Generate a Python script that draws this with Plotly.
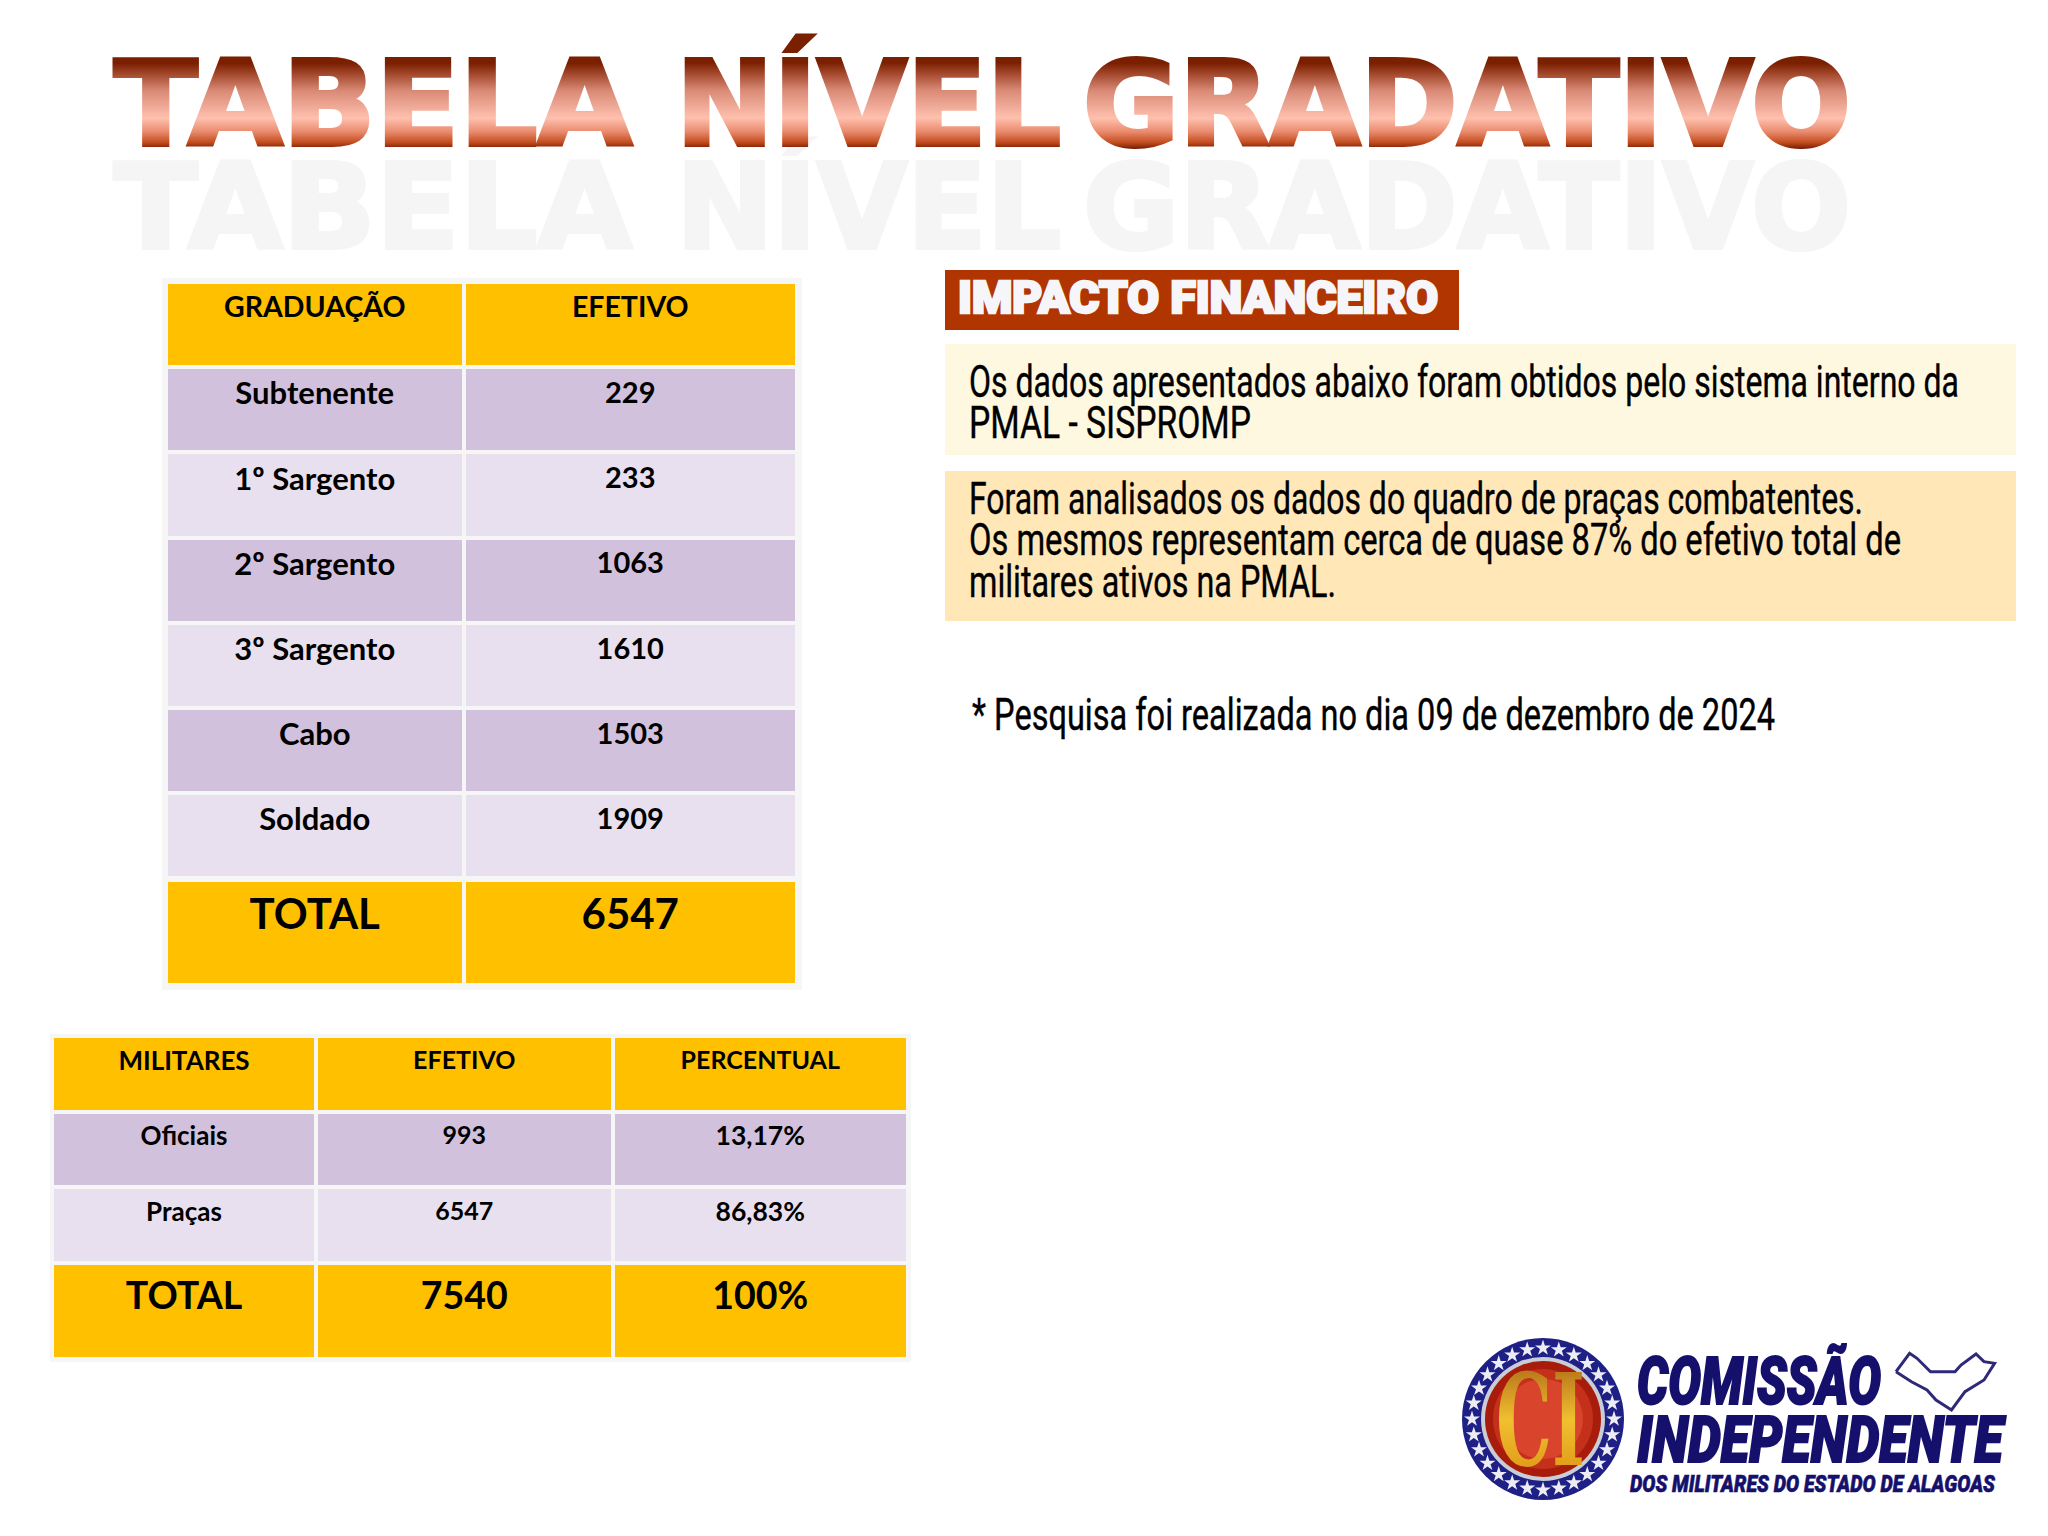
import json
import numpy as np
import plotly.graph_objects as go

W, H = 2048, 1536

# table 1
grad_header = ["GRADUAÇÃO", "EFETIVO"]
graduacao = ["Subtenente", "1º Sargento", "2º Sargento", "3º Sargento", "Cabo", "Soldado"]
efetivo = [229, 233, 1063, 1610, 1503, 1909]
grad_total = ["TOTAL", 6547]

# table 2
mil_header = ["MILITARES", "EFETIVO", "PERCENTUAL"]
militares = ["Oficiais", "Praças"]
mil_efetivo = [993, 6547]
mil_percentual = ["13,17%", "86,83%"]
mil_total = ["TOTAL", 7540, "100%"]

# text blocks
title_words = ["TABELA", "NÍVEL", "GRADATIVO"]
banner_text = "IMPACTO FINANCEIRO"
box1_lines = ["Os dados apresentados abaixo foram obtidos pelo sistema interno da", "PMAL - SISPROMP"]
box2_lines = ["Foram analisados os dados do quadro de praças combatentes.",
              "Os mesmos representam cerca de quase 87% do efetivo total de",
              "militares ativos na PMAL."]
footnote = "* Pesquisa foi realizada no dia 09 de dezembro de 2024"
logo_lines = ["COMISSÃO", "INDEPENDENTE", "DOS MILITARES DO ESTADO DE ALAGOAS"]

GOLD = "#FFC000"
PURPLE = "#D1C1DC"
LILAC = "#E8E0EE"
GAP = "#F6F6F6"
RUST = "#B03500"
NAVY = "#15106B"


def stripes(n):
    return [PURPLE if i % 2 == 0 else LILAC for i in range(n)]


def add_table(fig, x0, x1, y0, y1, widths, height, header, head_size, columns=None, fills=None, cell_size=None):
    fig.add_trace(go.Table(
        domain=dict(x=[x0 / W, x1 / W], y=[1 - y1 / H, 1 - y0 / H]),
        columnwidth=widths,
        header=dict(values=header, height=height, fill_color=GOLD, align="center",
                    line=dict(color=GAP, width=4),
                    font=dict(family="Lato", size=head_size, color="black", weight=700)),
        cells=dict(values=columns or [], height=height, fill_color=fills, align="center",
                   line=dict(color=GAP, width=4),
                   font=dict(family="Lato", size=cell_size, color="black", weight=700)),
    ))


fig = go.Figure()

add_table(fig, 166, 797, 282, 884, [297.5, 333.5], 85.2, grad_header, 28.5,
          [graduacao, efetivo], [stripes(6)], [31, 29])
add_table(fig, 166, 797, 879.8, 990, [297.5, 333.5], 105, grad_total, 42)
add_table(fig, 52, 908, 1036, 1264, [264, 296.5, 295.5], 75.6, mil_header, [26, 25, 25],
          [militares, mil_efetivo, mil_percentual], [stripes(2)], [26, 25, 26.5])
add_table(fig, 52, 908, 1262.5, 1360, [264, 296.5, 295.5], 96, mil_total, 37.5)

# logo: ring of stars and state outline
star_angles = np.linspace(0, 2 * np.pi, 28, endpoint=False)
fig.add_trace(go.Scatter(
    x=1543 + 71 * np.cos(star_angles), y=1419 + 71 * np.sin(star_angles),
    mode="markers", hoverinfo="skip", showlegend=False,
    marker=dict(symbol="star", size=12, color="#ECECF4"),
))
map_x = [1896, 1909.6, 1917, 1930.5, 1955, 1961, 1976, 1984, 1994.6, 1984, 1965, 1951.5, 1936, 1927, 1911.5, 1896]
map_y = [1371.7, 1353.3, 1358.3, 1371.7, 1371.7, 1365, 1354, 1361.7, 1363.3, 1380, 1391.7, 1410, 1400, 1390, 1381.7, 1371.7]
fig.add_trace(go.Scatter(x=map_x, y=map_y, mode="lines", hoverinfo="skip", showlegend=False,
                         line=dict(color="#2E2A78", width=3)))


def rect(x0, y0, x1, y1, color):
    return dict(type="rect", xref="x", yref="y", x0=x0, y0=y0, x1=x1, y1=y1,
                fillcolor=color, line_width=0, layer="below")


def disc(r, color):
    return dict(type="circle", xref="x", yref="y", x0=1543 - r, x1=1543 + r, y0=1419 - r, y1=1419 + r,
                fillcolor=color, line_width=0, layer="below")


shapes = [
    rect(162, 278, 802, 990, GAP),
    rect(50, 1034, 911, 1362, GAP),
    rect(945, 270, 1459, 330, RUST),
    rect(945, 344, 2016, 455, "#FFF8E0"),
    rect(945, 471, 2016, 621, "#FFE7B8"),
    disc(81, "#1F2085"),
    disc(62, "#C9CDD6"),
    disc(58, "#A81C0C"),
    disc(50, "#C4301A"),
    disc(40, "#D8442C"),
]


def label(text, x, y, size, color, family, weight=400, style="normal"):
    return dict(text=text, x=x, y=y, xref="x", yref="y", xanchor="left", yanchor="middle",
                showarrow=False, borderpad=0,
                font=dict(family=family, size=size, color=color, weight=weight, style=style))


notes = []
# faded copy of the title, then the title
title_x = [114, 676, 1083]
for word, x in zip(title_words, title_x):
    notes.append(label(word, x, 207, 117, "#F5F5F5", "DejaVu Sans", weight=700))
for word, x in zip(title_words, title_x):
    notes.append(label(word, x, 104, 117, "#B5472A", "DejaVu Sans", weight=700))

notes.append(label(banner_text, 958, 298, 44, "#F6F6FA", "Roboto", weight=900))
for line, y in zip(box1_lines, [382, 423]):
    notes.append(label(line, 969, y, 44, "black", "Roboto"))
for line, y in zip(box2_lines, [499, 540, 582]):
    notes.append(label(line, 969, y, 44, "black", "Roboto"))
notes.append(label(footnote, 972, 715, 44, "black", "Roboto"))

notes.append(label("CI", 1496, 1420, 128, "#E8B520", "DejaVu Serif", weight=700))
notes.append(label(logo_lines[0], 1637, 1381, 66, NAVY, "Roboto", weight=900, style="italic"))
notes.append(label(logo_lines[1], 1637, 1440, 65, NAVY, "Roboto", weight=900, style="italic"))
notes.append(label(logo_lines[2], 1630, 1484, 24, NAVY, "Roboto", weight=900, style="italic"))

fig.update_layout(
    width=W, height=H, margin=dict(l=0, r=0, t=0, b=0),
    paper_bgcolor="white", plot_bgcolor="white", showlegend=False,
    xaxis=dict(range=[0, W], visible=False),
    yaxis=dict(range=[H, 0], visible=False),
    shapes=shapes, annotations=notes,
)

# text extents in the picture, squeezed with textLength since no condensed font is installed
fit = {
    title_words[0]: [114, 632, 4],
    title_words[1]: [676, 1061, 4],
    title_words[2]: [1083, 1851, 4],
    banner_text: [958, 1438, 2.5],
    box1_lines[0]: [969, 1959, 0.4],
    box1_lines[1]: [969, 1251, 0.4],
    box2_lines[0]: [969, 1863, 0.4],
    box2_lines[1]: [969, 1901, 0.4],
    box2_lines[2]: [969, 1336, 0.4],
    footnote: [972, 1775, 0.4],
    "CI": [1496, 1585, 0],
    logo_lines[0]: [1637, 1881, 2],
    logo_lines[1]: [1637, 2003, 2],
    logo_lines[2]: [1630, 1995, 0.6],
}

# gradient fill for the heading and squeezed text, plotly has no option for these
post = """
document.body.style.margin = '0';
document.documentElement.style.overflow = 'hidden';
var words = %s;
var fit = %s;
var svg = document.querySelector('.main-svg');
var ns = 'http://www.w3.org/2000/svg';
function grad(id, stops) {
  var g = document.createElementNS(ns, 'linearGradient');
  g.setAttribute('id', id); g.setAttribute('x1', '0'); g.setAttribute('x2', '0');
  g.setAttribute('y1', '0'); g.setAttribute('y2', '1');
  stops.forEach(function (s) {
    var st = document.createElementNS(ns, 'stop');
    st.setAttribute('offset', s[0]); st.setAttribute('stop-color', s[1]);
    g.appendChild(st);
  });
  var d = document.createElementNS(ns, 'defs'); d.appendChild(g); svg.appendChild(d);
}
grad('titleFill', [[0.2, '#7A2000'], [0.27, '#A04428'], [0.4, '#D98A76'], [0.6, '#FFC0AE'],
                   [0.7, '#E98A6C'], [0.78, '#C04A1C'], [0.83, '#6A1400']]);
grad('logoFill', [[0.15, '#B8741A'], [0.5, '#F0C030'], [0.85, '#E09A18']]);
document.querySelectorAll('.annotation-text').forEach(function (t) {
  var label = t.textContent;
  var faded = t.style.fill.indexOf('245') >= 0;
  if (label === 'CI') { t.style.fill = 'url(#logoFill)'; }
  if (fit[label]) {
    var box = fit[label];
    t.setAttribute('textLength', box[1] - box[0]);
    t.setAttribute('lengthAdjust', 'spacingAndGlyphs');
    var dx = box[0] - t.getBoundingClientRect().left;
    t.setAttribute('transform', 'translate(' + dx + ',0) ' + (t.getAttribute('transform') || ''));
    if (box[2] > 0) {
      t.style.stroke = t.style.fill;
      t.style.strokeWidth = box[2] + 'px';
    }
  }
  if (words.indexOf(label) >= 0 && !faded) {
    t.style.fill = 'url(#titleFill)';
    t.style.stroke = 'url(#titleFill)';
  }
});
// table text sits lower in its cell than plotly's fixed padding (plotly's dy is in em)
document.querySelectorAll('.cell-text').forEach(function (t) {
  var em = parseFloat(t.getAttribute('dy')) || 0;
  var size = parseFloat(t.style.fontSize);
  t.setAttribute('dy', (em * size + (size > 35 ? 10 : 6)) + 'px');
});
""" % (json.dumps(title_words), json.dumps(fit))

fig.write_html("out.html", post_script=post, config={"displayModeBar": False})
